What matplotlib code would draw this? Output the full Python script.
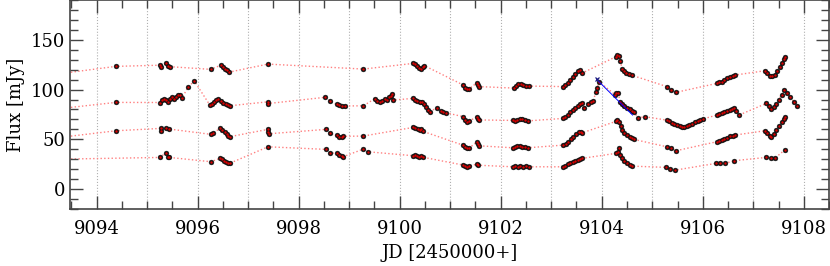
import matplotlib
matplotlib.use("Agg")
import matplotlib.pyplot as plt
from matplotlib.ticker import MultipleLocator

# light curves, JD - 2450000 vs flux in mJy (four bands)
a_x = [9093.2, 9094.38, 9095.26, 9095.27, 9095.37, 9095.42, 9095.45, 9096.26, 9096.46, 9096.50,
       9096.54, 9096.58, 9096.62, 9097.39, 9099.28, 9100.27, 9100.31, 9100.35, 9100.39, 9100.43,
       9100.46, 9100.49, 9101.26, 9101.30, 9101.34, 9101.38, 9101.52, 9101.55, 9101.57, 9102.26,
       9102.30, 9102.35, 9102.40, 9102.45, 9102.50, 9102.56, 9103.23, 9103.28, 9103.33, 9103.38,
       9103.43, 9103.48, 9103.53, 9103.57, 9103.61, 9104.28, 9104.31, 9104.35, 9104.37, 9104.40,
       9104.44, 9104.49, 9104.54, 9104.59, 9105.30, 9105.38, 9105.47, 9106.28, 9106.33, 9106.38,
       9106.43, 9106.48, 9106.54, 9106.59, 9106.64, 9107.23, 9107.28, 9107.33, 9107.38, 9107.43,
       9107.48, 9107.53, 9107.57, 9107.60, 9107.63]
a_y = [115.5, 123.3, 124.5, 122.8, 126.5, 123.5, 123.0, 120.3, 124.6, 123.0,
       121.0, 119.2, 117.5, 125.6, 120.6, 126.3, 125.2, 124.0, 122.0, 120.5,
       122.5, 124.0, 104.5, 101.5, 100.2, 101.0, 106.5, 104.5, 103.0, 101.5,
       103.5, 105.5, 106.0, 105.0, 104.0, 103.5, 103.0, 104.5, 107.0, 109.5,
       112.5, 116.0, 118.5, 120.0, 116.5, 133.0, 135.0, 133.5, 129.0, 121.0,
       118.5, 117.0, 115.8, 114.5, 102.8, 99.5, 97.2, 106.2, 107.5, 108.0,
       110.0, 111.5, 113.0, 114.0, 114.6, 118.9, 116.5, 114.0, 113.2, 114.5,
       118.5, 123.0, 127.0, 131.0, 133.0]

b_x = [9093.2, 9094.38, 9095.25, 9095.29, 9095.33, 9095.37, 9095.41, 9095.45, 9095.49, 9095.53,
       9095.57, 9095.61, 9095.65, 9095.69, 9095.81, 9095.93, 9096.24, 9096.28, 9096.32, 9096.37,
       9096.41, 9096.46, 9096.51, 9096.56, 9096.60, 9096.63, 9097.39, 9097.40, 9098.52, 9098.62,
       9098.75, 9098.80, 9098.86, 9098.92, 9099.28, 9099.51, 9099.55, 9099.60, 9099.65, 9099.70,
       9099.74, 9099.78, 9099.82, 9099.85, 9099.87, 9100.27, 9100.31, 9100.35, 9100.40, 9100.44,
       9100.48, 9100.52, 9100.56, 9100.60, 9100.73, 9100.82, 9100.86, 9100.92, 9101.26, 9101.30,
       9101.34, 9101.38, 9101.52, 9101.55, 9101.57, 9102.24, 9102.28, 9102.33, 9102.38, 9102.43,
       9102.48, 9102.53, 9103.23, 9103.28, 9103.33, 9103.38, 9103.43, 9103.48, 9103.53, 9103.57,
       9103.60, 9103.64, 9103.73, 9103.78, 9103.83, 9103.89, 9103.91, 9103.95, 9104.26, 9104.29,
       9104.33, 9104.36, 9104.40, 9104.45, 9104.50, 9104.55, 9104.60, 9104.63, 9104.72, 9104.86,
       9105.29, 9105.34, 9105.39, 9105.44, 9105.49, 9105.54, 9105.59, 9105.62, 9105.68, 9105.73,
       9105.79, 9105.85, 9105.90, 9105.95, 9106.00, 9106.28, 9106.33, 9106.38, 9106.43, 9106.48,
       9106.53, 9106.58, 9106.61, 9106.66, 9106.72, 9107.26, 9107.31, 9107.36, 9107.41, 9107.46,
       9107.51, 9107.56, 9107.61, 9107.66, 9107.73, 9107.80, 9107.87]
b_y = [80.5, 87.1, 87.0, 89.5, 91.0, 89.5, 88.0, 90.5, 92.5, 90.5,
       93.0, 95.0, 94.5, 92.0, 102.2, 108.8, 84.4, 86.0, 88.0, 89.5,
       90.1, 88.5, 87.0, 85.5, 84.5, 83.7, 87.7, 86.0, 92.2, 88.4,
       85.0, 84.0, 83.5, 83.5, 83.7, 91.0, 88.5, 87.5, 89.0, 90.5,
       89.5, 92.5, 93.5, 95.5, 89.4, 91.2, 90.0, 89.0, 87.7, 88.0,
       85.0, 82.0, 79.5, 77.7, 81.7, 78.5, 77.7, 76.7, 72.7, 69.5,
       67.8, 68.5, 72.5, 70.5, 69.5, 69.0, 68.0, 69.0, 70.0, 70.0,
       69.0, 68.5, 71.0, 72.5, 74.5, 77.0, 79.5, 81.0, 83.5, 85.0,
       86.1, 81.0, 86.0, 87.5, 89.0, 97.8, 101.2, 107.8, 95.0, 97.0,
       96.5, 87.7, 86.0, 83.5, 81.5, 80.0, 78.5, 77.7, 71.7, 72.7,
       69.3, 68.0, 66.8, 65.5, 64.5, 63.5, 62.5, 62.0, 63.3, 64.5,
       65.5, 67.0, 68.0, 69.3, 70.4, 74.4, 75.5, 76.0, 77.0, 78.0,
       79.5, 80.5, 81.1, 78.0, 74.4, 86.1, 83.0, 80.1, 82.0, 86.0,
       90.0, 95.0, 99.5, 97.0, 92.8, 88.0, 83.4]

c_x = [9093.2, 9094.38, 9095.27, 9095.28, 9095.38, 9095.44, 9096.26, 9096.30, 9096.45, 9096.49,
       9096.53, 9096.57, 9096.60, 9096.63, 9097.39, 9097.40, 9097.41, 9098.54, 9098.62, 9098.75,
       9098.80, 9098.85, 9098.88, 9099.28, 9100.27, 9100.31, 9100.36, 9100.40, 9100.43, 9100.46,
       9101.26, 9101.30, 9101.34, 9101.38, 9101.52, 9101.55, 9101.57, 9102.24, 9102.28, 9102.33,
       9102.38, 9102.43, 9102.48, 9102.53, 9103.24, 9103.29, 9103.34, 9103.39, 9103.44, 9103.49,
       9103.54, 9103.58, 9103.61, 9104.28, 9104.31, 9104.35, 9104.38, 9104.40, 9104.45, 9104.50,
       9104.55, 9104.60, 9104.63, 9105.29, 9105.37, 9105.47, 9106.28, 9106.33, 9106.38, 9106.43,
       9106.48, 9106.54, 9106.59, 9106.64, 9107.23, 9107.28, 9107.33, 9107.36, 9107.41, 9107.46,
       9107.51, 9107.56, 9107.60, 9107.63]
c_y = [51.5, 58.6, 61.0, 58.5, 61.7, 60.3, 55.0, 56.6, 61.0, 59.0,
       57.0, 55.0, 53.5, 52.6, 60.0, 57.5, 55.6, 60.0, 56.0, 54.0,
       52.5, 52.0, 53.0, 53.3, 62.0, 61.0, 60.0, 59.0, 60.0, 58.0,
       44.0, 42.0, 41.0, 41.5, 47.0, 45.0, 43.5, 41.5, 42.0, 43.0,
       43.5, 42.5, 42.0, 41.5, 44.2, 45.5, 47.5, 50.0, 52.5, 55.0,
       57.0, 57.6, 56.5, 68.0, 69.3, 67.6, 63.0, 59.3, 56.0, 54.0,
       52.5, 51.0, 50.0, 42.5, 40.9, 38.5, 47.6, 48.5, 49.5, 50.5,
       51.5, 53.0, 53.8, 54.3, 58.6, 56.0, 53.5, 52.6, 55.0, 59.0,
       63.5, 67.5, 70.5, 72.0]

d_x = [9093.2, 9095.25, 9095.37, 9095.41, 9095.44, 9096.26, 9096.44, 9096.48, 9096.52, 9096.56,
       9096.60, 9096.63, 9097.39, 9098.54, 9098.62, 9098.75, 9098.80, 9098.85, 9098.88, 9099.28,
       9099.37, 9100.27, 9100.31, 9100.35, 9100.39, 9100.43, 9100.46, 9101.26, 9101.30, 9101.34,
       9101.38, 9101.52, 9101.55, 9102.24, 9102.29, 9102.34, 9102.39, 9102.44, 9102.50, 9102.56,
       9103.23, 9103.28, 9103.33, 9103.38, 9103.43, 9103.48, 9103.53, 9103.57, 9103.60, 9104.28,
       9104.33, 9104.35, 9104.37, 9104.40, 9104.45, 9104.50, 9104.55, 9104.59, 9105.28, 9105.36,
       9105.46, 9106.26, 9106.35, 9106.44, 9106.62, 9107.25, 9107.35, 9107.44, 9107.62]
d_y = [30.0, 31.8, 36.5, 32.5, 31.8, 27.5, 30.8, 29.8, 28.5, 27.5,
       26.5, 25.8, 42.5, 39.9, 36.5, 35.9, 34.0, 33.0, 32.5, 40.2,
       37.5, 33.5, 34.0, 33.0, 32.5, 33.5, 32.0, 24.1, 23.0, 22.4,
       22.8, 25.1, 24.0, 22.4, 22.8, 22.6, 23.0, 22.5, 22.8, 22.4,
       22.4, 23.5, 25.0, 26.5, 27.5, 28.5, 29.5, 30.5, 30.8, 35.9,
       37.0, 40.9, 34.2, 30.8, 28.5, 26.5, 24.5, 23.1, 21.8, 19.8,
       19.1, 25.8, 25.8, 25.8, 28.5, 31.8, 31.5, 31.5, 39.2]

# flare decay fit
fit_x = [9103.90, 9104.61]
fit_y = [110.2, 74.4]

plt.rcParams['font.family'] = 'DejaVu Serif'
plt.rcParams['font.size'] = 13

fig = plt.figure(figsize=(8.3, 2.66), dpi=100)
ax = fig.add_axes([0.0843, 0.2143, 0.9145, 0.7857])

for day in range(9094, 9109):
    ax.axvline(day, color='#b0b0b0', ls=':', lw=0.8, zorder=0)

for xs, ys in [(a_x, a_y), (b_x, b_y), (c_x, c_y), (d_x, d_y)]:
    ax.plot(xs, ys, ls=':', color='#ff8080', lw=1.0, zorder=1)
    # black outline first, red core on top
    ax.plot(xs, ys, 'o', ms=3.5, mfc='#111111', mec='#111111', mew=0.3, zorder=2)
    ax.plot(xs, ys, 'o', ms=1.7, mfc='#dd0000', mec='none', zorder=3)

ax.plot(fit_x, fit_y, color='blue', lw=0.7, zorder=4)
ax.plot(fit_x[:1], fit_y[:1], 'x', color='#1a1a80', ms=3.5, mew=0.9, zorder=5)

ax.set_xlim(9093.47, 9108.5)
ax.set_ylim(-20, 190)
ax.xaxis.set_major_locator(MultipleLocator(2))
ax.xaxis.set_minor_locator(MultipleLocator(0.5))
ax.yaxis.set_major_locator(MultipleLocator(50))
ax.yaxis.set_minor_locator(MultipleLocator(10))
ax.tick_params(which='both', direction='in', top=True, right=True, color='#444444', width=1.0)
ax.tick_params(which='major', length=9.5)
ax.tick_params(which='minor', length=5.5)
ax.tick_params(axis='x', pad=8)
for s in ax.spines.values():
    s.set_color('#444444')
    s.set_linewidth(1.2)

ax.set_xlabel("JD [2450000+]", labelpad=4)
ax.set_ylabel("Flux [mJy]", labelpad=4)

fig.savefig("out.png", dpi=100)
